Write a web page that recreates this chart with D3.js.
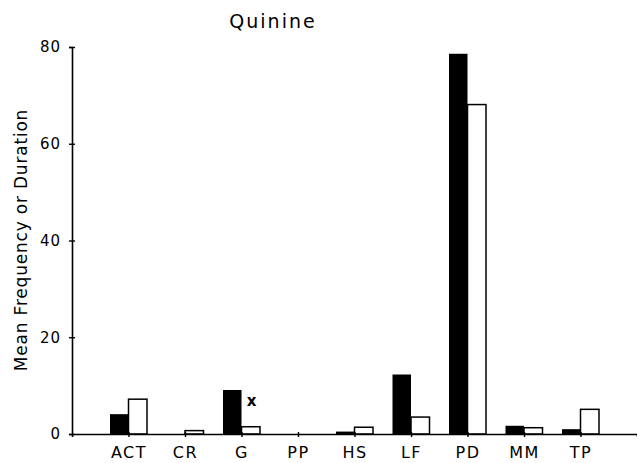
<!DOCTYPE html>
<html>
<head>
<meta charset="utf-8">
<script src="https://cdn.jsdelivr.net/npm/d3@7"></script>
<style>
  body { margin: 0; background: #fff; }
  text { font-family: "DejaVu Sans", sans-serif; fill: #000; }
</style>
</head>
<body>
<svg width="637" height="463"></svg>
<script>
// data
const categories = ['ACT', 'CR', 'G', 'PP', 'HS', 'LF', 'PD', 'MM', 'TP'];
const filledVals = [4.1, 0, 9.1, 0, 0.5, 12.3, 78.6, 1.7, 1.0];
const openVals = [7.2, 0.7, 1.5, 0, 1.4, 3.5, 68.1, 1.3, 5.1];
const yTicks = [0, 20, 40, 60, 80];
const marked = ['G']; // categories with the "x" marker

const svg = d3.select("svg");
const plotLeft = 72, plotRight = 637, plotTop = 47, plotBottom = 434;
const barW = 18.5;

const x = d3.scalePoint().domain(categories).range([plotLeft, plotRight]).padding(1);
const y = d3.scaleLinear().domain([0, 80]).range([plotBottom, plotTop]);

// bars
const g = svg.append("g");
g.selectAll("rect.filled")
  .data(categories)
  .join("rect")
  .attr("class", "filled")
  .attr("x", d => x(d) - barW)
  .attr("y", (d, i) => y(filledVals[i]))
  .attr("width", barW)
  .attr("height", (d, i) => y(0) - y(filledVals[i]))
  .attr("fill", "#000");

g.selectAll("rect.open")
  .data(categories)
  .join("rect")
  .attr("class", "open")
  .attr("x", d => x(d))
  .attr("y", (d, i) => y(openVals[i]))
  .attr("width", barW)
  .attr("height", (d, i) => y(0) - y(openVals[i]))
  .attr("fill", "#fff")
  .attr("stroke", "#000")
  .attr("stroke-width", 1.5);

// axes
const yAxis = svg.append("g")
  .attr("transform", `translate(${plotLeft},0)`)
  .call(d3.axisLeft(y).tickValues(yTicks).tickSize(3).tickPadding(8));
yAxis.select(".domain").attr("stroke-width", 1.6);
yAxis.selectAll(".tick line").attr("x2", 3).attr("x1", -3).attr("stroke-width", 1.4);
yAxis.selectAll(".tick text")
  .style("font-size", "15px")
  .style("letter-spacing", "1px")
  .attr("x", -11);

const xAxis = svg.append("g")
  .attr("transform", `translate(0,${plotBottom})`)
  .call(d3.axisBottom(x).tickSize(3).tickPadding(10));
xAxis.select(".domain").attr("stroke-width", 1.6);
xAxis.selectAll(".tick line").attr("y1", -2).attr("y2", 3).attr("stroke-width", 1.4);
xAxis.selectAll(".tick text")
  .style("font-size", "16px")
  .style("letter-spacing", "1.5px")
  .attr("y", 24)
  .attr("dy", null);

// x marker
marked.forEach(c => {
  const i = categories.indexOf(c);
  svg.append("text")
    .attr("x", x(c) + 10)
    .attr("y", y(filledVals[i]) + 16)
    .attr("text-anchor", "middle")
    .style("font-size", "15px")
    .style("font-weight", "bold")
    .text("x");
});

// title
svg.append("text")
  .attr("x", 273)
  .attr("y", 28)
  .attr("text-anchor", "middle")
  .style("font-size", "19px")
  .style("letter-spacing", "2px")
  .text("Quinine");

// y label
svg.append("text")
  .attr("transform", "translate(27,240) rotate(-90)")
  .attr("text-anchor", "middle")
  .style("font-size", "17px")
  .style("letter-spacing", "0.8px")
  .text("Mean Frequency or Duration");
</script>
</body>
</html>
